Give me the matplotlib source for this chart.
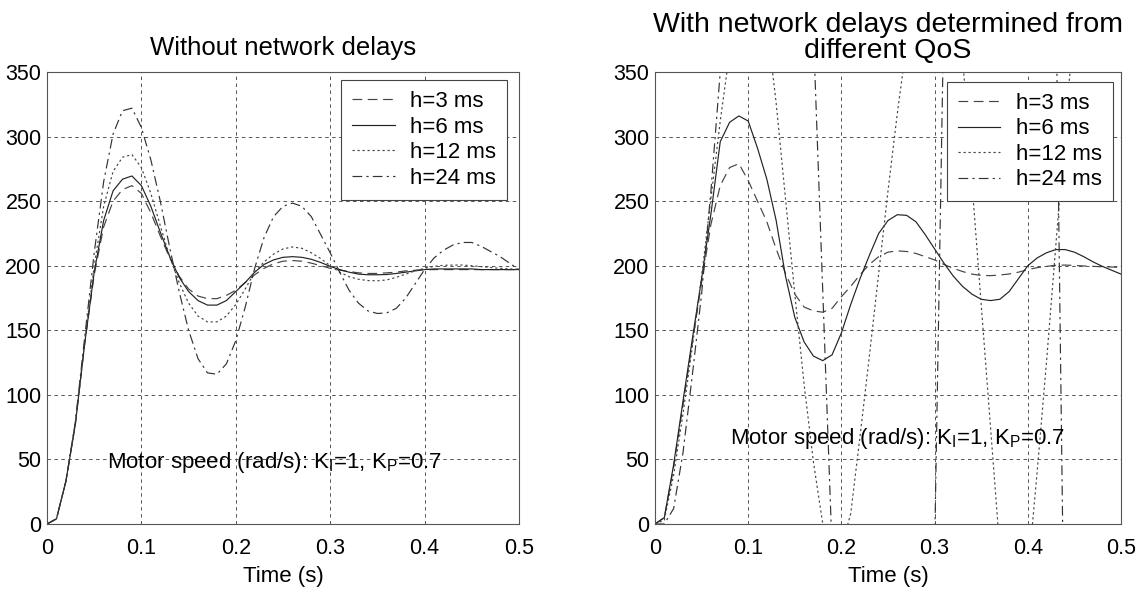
import numpy as np
import matplotlib
matplotlib.use("Agg")
import matplotlib.pyplot as plt

plt.rcParams['font.family'] = ['Liberation Sans', 'DejaVu Sans']
plt.rcParams['mathtext.fontset'] = 'custom'
plt.rcParams['mathtext.rm'] = 'Liberation Sans'
plt.rcParams['mathtext.it'] = 'Liberation Sans:italic'
plt.rcParams['lines.scale_dashes'] = False

# ---- data ----
time_s = np.round(np.arange(0, 0.501, 0.01), 2)
labels = ["h=3 ms", "h=6 ms", "h=12 ms", "h=24 ms"]

left_h3 = [0, 4, 33, 77, 140, 193, 230, 250, 259, 262,
           256, 241, 223, 206, 192, 182, 176.5, 174.5, 174.5, 177,
           181, 187, 193, 198, 201.5, 203.5, 204, 203.5, 202, 200,
           198, 196.5, 195.5, 194.5, 194, 194, 194.5, 195, 196, 196.5,
           197, 197, 197, 197, 197, 197, 197, 197, 197, 197, 197]
left_h6 = [0, 4, 33, 77, 140, 195, 235, 258, 267, 269.5,
           262, 246, 226, 207, 191, 180, 173, 169.5, 169.5, 173,
           180, 187, 195, 201, 204.5, 206.5, 207, 206.5, 205, 202.5,
           199.5, 197, 195, 193.5, 193, 193, 193.2, 194, 195, 196,
           197, 197.5, 197.5, 197.5, 197.5, 197.5, 197, 197, 197, 197, 197]
left_h12 = [0, 4, 33, 78, 142, 200, 246, 273, 284, 286,
            276, 256, 231, 207, 187, 171, 161, 156.5, 156.5, 161,
            170, 182, 195, 203, 209, 213, 214.5, 213.5, 210, 205.5,
            200, 195, 191.5, 189.5, 188.5, 188.3, 189, 191, 193.5, 196,
            198, 199.5, 200.3, 200.5, 200.5, 200, 199.3, 198.6, 198, 197.5, 197.3]
left_h24 = [0, 4, 33, 79, 145, 210, 265, 302, 320, 322,
            307, 282, 250, 214, 180, 150, 128, 117, 116, 124,
            142, 168, 198, 222, 238, 246, 248.5, 246, 238, 224,
            210, 195, 181, 171, 165, 163, 163.5, 167, 175, 186,
            197, 206, 212, 216, 218, 218, 215, 211, 207, 202, 197]

right_h3 = [0, 5, 44, 92, 140, 187, 232, 262, 276, 279,
            266, 250, 234, 213, 194, 178, 168, 165, 164, 167,
            176, 184, 193, 201, 207, 210.5, 211.5, 211, 209.5, 207,
            204.5, 201, 198, 195.5, 193.5, 192.5, 192.3, 192.8, 193.6, 195,
            197, 198.5, 199.5, 200.3, 200.5, 200.2, 199.8, 199.5, 199.2, 199, 198.7]
right_h6 = [0, 5, 46, 95, 143, 190, 240, 296, 311, 316,
            312, 291, 267, 235, 192, 160, 141, 130, 126.5, 131,
            148, 170, 190, 208, 225, 235, 239.5, 239, 234, 224,
            213, 202, 192, 184, 178, 174, 173, 174, 180, 190,
            200, 206, 210, 212.5, 212.5, 210.5, 207, 203, 199.5, 196.5, 193.5]
right_h12 = [0, 3, 38, 85, 137, 192, 252, 312, 365, 405,
             425, 422, 388, 326, 252, 178, 108, 48, 0, -28,
             -18, 8, 68, 130, 194, 258, 318, 372, 420, 452,
             463, 452, 418, 362, 265, 170, 75, -20, -82, -95,
             -40, 40, 125, 215, 305, 390, 460, 505, 520, 505, 460]
right_h24 = [0, 0, 12, 55, 115, 178, 258, 350, 520, 700,
             850, 950, 990, 960, 870, 730, 560, 380, 180, -20,
             -220, -420, -600, -740, -830, -860, -820, -700, -500, -280,
             -20, 400, 800, 1120, 1380, 1560, 1650, 1660, 1600, 1480,
             1330, 1100, 750, 420, -150, -700, -1200, -1600, -1900, -2050, -2100]

titles = ["Without network delays",
          "With network delays determined from\ndifferent QoS"]
annotation = r"Motor speed (rad/s): K$_\mathrm{I}$=1, K$_\mathrm{P}$=0.7"
x_ticks = [0, 0.1, 0.2, 0.3, 0.4, 0.5]
x_tick_labels = ["0", "0.1", "0.2", "0.3", "0.4", "0.5"]
y_ticks = [0, 50, 100, 150, 200, 250, 300, 350]

# ---- styles ----
styles = [
    dict(linestyle=(0, (7, 4)), color="#444444"),
    dict(linestyle="-", color="#222222"),
    dict(linestyle=(0, (1.6, 2.0)), color="#444444"),
    dict(linestyle=(0, (7, 3, 1.6, 3)), color="#333333"),
]

W, H = 1142, 593
fig = plt.figure(figsize=(W / 100, H / 100), dpi=100)

axes_px = [(47, 519), (655, 1121)]
top_px, bot_px = 72, 524
series = [[left_h3, left_h6, left_h12, left_h24],
          [right_h3, right_h6, right_h12, right_h24]]
annot_pos = [(0.064, 48), (0.080, 66)]
legend_anchor = [(0.975, 0.982), (0.983, 0.978)]
title_size = [18.5, 20.5]
title_pad = [12, 10]

for i in range(2):
    x0, x1 = axes_px[i]
    ax = fig.add_axes([x0 / W, 1 - bot_px / H, (x1 - x0) / W, (bot_px - top_px) / H])
    for data, lab, st in zip(series[i], labels, styles):
        ax.plot(time_s, data, lw=0.85, label=lab, **st)
    ax.set_xlim(0, 0.5)
    ax.set_ylim(0, 350)
    ax.set_xticks(x_ticks)
    ax.set_xticklabels(x_tick_labels)
    ax.set_yticks(y_ticks)
    ax.tick_params(axis='both', length=0, labelsize=15.5)
    ax.tick_params(axis='x', pad=10)
    ax.tick_params(axis='y', pad=4)
    ax.grid(True, color="#555555", linestyle=(0, (2.5, 2.5)), linewidth=0.7)
    for sp in ax.spines.values():
        sp.set_color("#555555")
        sp.set_linewidth(0.8)
    ax.set_xlabel("Time (s)", fontsize=16, labelpad=5)
    ax.set_title(titles[i], fontsize=title_size[i], pad=title_pad[i], linespacing=1.0)
    ax.text(annot_pos[i][0], annot_pos[i][1], annotation, fontsize=16,
            ha='left', va='center')
    leg = ax.legend(loc='upper right', bbox_to_anchor=legend_anchor[i],
                    fontsize=16, fancybox=False, framealpha=1,
                    edgecolor="#444444", handlelength=1.9, handletextpad=0.7,
                    labelspacing=0.2, borderpad=0.5, borderaxespad=0)
    leg.get_frame().set_linewidth(0.8)

fig.savefig("out.png", dpi=100)
